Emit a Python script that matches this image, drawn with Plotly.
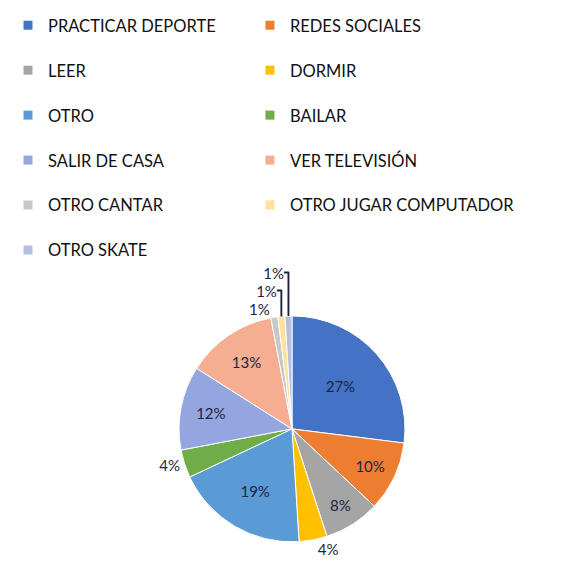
import plotly.graph_objects as go

labels = ["PRACTICAR DEPORTE", "REDES SOCIALES", "LEER", "DORMIR", "OTRO", "BAILAR",
          "SALIR DE CASA", "VER TELEVISIÓN", "OTRO CANTAR", "OTRO JUGAR COMPUTADOR", "OTRO SKATE"]
values = [27, 10, 8, 4, 19, 4, 12, 13, 1, 1, 1]
colors = ["#4472C4", "#ED7D31", "#A5A5A5", "#FFC000", "#5B9BD5", "#70AD47",
          "#93A6E0", "#F6AE93", "#C8C8C8", "#FFE29A", "#B4C0E0"]
text_pos = ["inside", "inside", "inside", "outside", "inside", "outside",
            "inside", "inside", "outside", "outside", "outside"]

FONT = "Lato"

fig = go.Figure()
fig.add_trace(go.Pie(
    labels=labels, values=values, sort=False, direction="clockwise", rotation=0,
    marker=dict(colors=colors, line=dict(color="white", width=1)),
    textinfo="percent", textposition=text_pos,
    textfont=dict(family=FONT, size=15, color="#1b2540"),
    insidetextorientation="horizontal",
    domain=dict(x=[0.2867, 0.7063], y=[0.0715, 0.4645]),
    showlegend=False,
))

# legend entries in two columns
for i, (lab, col) in enumerate(zip(labels, colors)):
    fig.add_trace(go.Scatter(
        x=[None], y=[None], mode="markers", name=lab,
        marker=dict(symbol="square", size=9, color=col),
        legendgroup=lab, showlegend=True,
        legend="legend" if i % 2 == 0 else "legend2",
    ))

leg_common = dict(
    orientation="v", yanchor="top", y=1.0, xanchor="left",
    traceorder="grouped", tracegroupgap=20.5,
    font=dict(family=FONT, size=16.5, color="#111111"),
    bgcolor="rgba(0,0,0,0)", itemclick=False,
)
fig.update_layout(
    width=572, height=575,
    margin=dict(l=0, r=0, t=0, b=0),
    paper_bgcolor="white", plot_bgcolor="white",
    xaxis=dict(visible=False), yaxis=dict(visible=False),
    legend=dict(x=0.0, **leg_common),
    legend2=dict(x=0.423, **leg_common),
)

fig.write_html("out.html")
